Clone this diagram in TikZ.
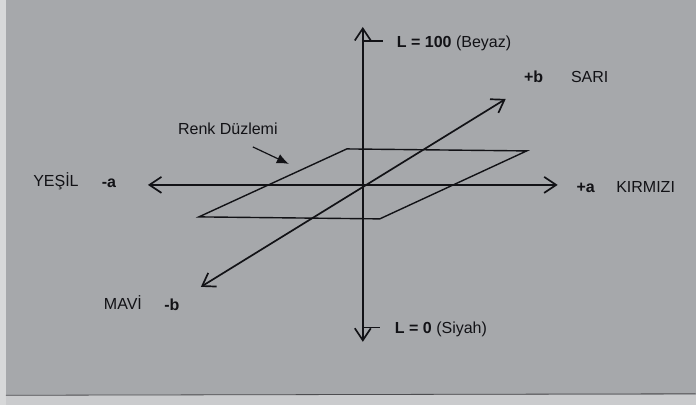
\documentclass[tikz,border=0pt]{standalone}
\usepackage{fontspec}
\setmainfont{Liberation Sans}
\usetikzlibrary{arrows.meta}
\definecolor{paper}{RGB}{166,168,171}
\definecolor{ink}{RGB}{18,18,22}

\begin{document}
\begin{tikzpicture}[x=1pt, y=-1pt,
  every node/.style={font=\fontsize{16}{19}\selectfont, text=ink, inner sep=0pt},
  axis/.style={draw=ink, line width=1.7pt, {Straight Barb[length=12pt,width=16pt]}-{Straight Barb[length=12pt,width=16pt]}},
  plane/.style={draw=ink, line width=1.4pt, line join=miter},
  sign/.style={font=\fontsize{16}{19}\selectfont\bfseries}]
  % page
  \fill[paper] (0,0) rectangle (696,405);
  \fill[paper!45!white] (0,0) rectangle (6,405);
  \fill[paper!60!white] (6,395) rectangle (696,405);
  \draw[ink!75, line width=0.8pt] (6,395.5) -- (696,394);
  \useasboundingbox (0,0) rectangle (696,405);

  % axis ends
  \coordinate (Ltop) at (363,27);
  \coordinate (Lbot) at (363,342);
  \coordinate (aneg) at (148,185);
  \coordinate (apos) at (558,185);
  \coordinate (bneg) at (201,287);
  \coordinate (bpos) at (506,99);

  % renk duzlemi
  \coordinate (p1) at (347,149);
  \coordinate (p2) at (527,151);
  \coordinate (p3) at (380,219);
  \coordinate (p4) at (199,217);
  \draw[plane] (p1) -- (p2) -- (p3) -- (p4) -- cycle;

  % axes
  \draw[axis] (Lbot) -- (Ltop);
  \draw[axis] (aneg) -- (apos);
  \draw[axis] (bneg) -- (bpos);

  % L ticks
  \coordinate (Ltick top) at (383,41);
  \coordinate (Ltick bot) at (380,328);
  \draw[ink, line width=1.3pt] (Ltop |- Ltick top) -- (Ltick top);
  \draw[ink, line width=1.3pt] (Lbot |- Ltick bot) -- (Ltick bot);

  % labels
  \node[anchor=mid west] (lbl L100) at (397,45) {\textbf{L = 100} (Beyaz)};
  \node[anchor=mid west] (lbl L0) at (395,331) {\textbf{L = 0} (Siyah)};
  \node[sign, anchor=mid] (lbl bpos) at (534,80) {+b};
  \node[anchor=mid] (lbl sari) at (590,80) {SARI};
  \node[sign, anchor=mid] (lbl aneg) at (109,185) {-a};
  \node[anchor=mid] (lbl yesil) at (56,184) {YEŞİL};
  \node[sign, anchor=mid] (lbl apos) at (586,190) {+a};
  \node[anchor=mid] (lbl kirmizi) at (646,190) {KIRMIZI};
  \node[anchor=mid] (lbl mavi) at (123,307) {MAVİ};
  \node[sign, anchor=mid] (lbl bneg) at (172,308) {-b};
  \node[anchor=mid] (lbl plane) at (228,132) {Renk Düzlemi};

  % pointer to the plane
  \coordinate (ptr start) at (253,147);
  \coordinate (ptr end) at (289,164);
  \draw[ink, line width=1.2pt, -{Latex[length=12pt,width=10pt]}] (ptr start) -- (ptr end);
\end{tikzpicture}
\end{document}
